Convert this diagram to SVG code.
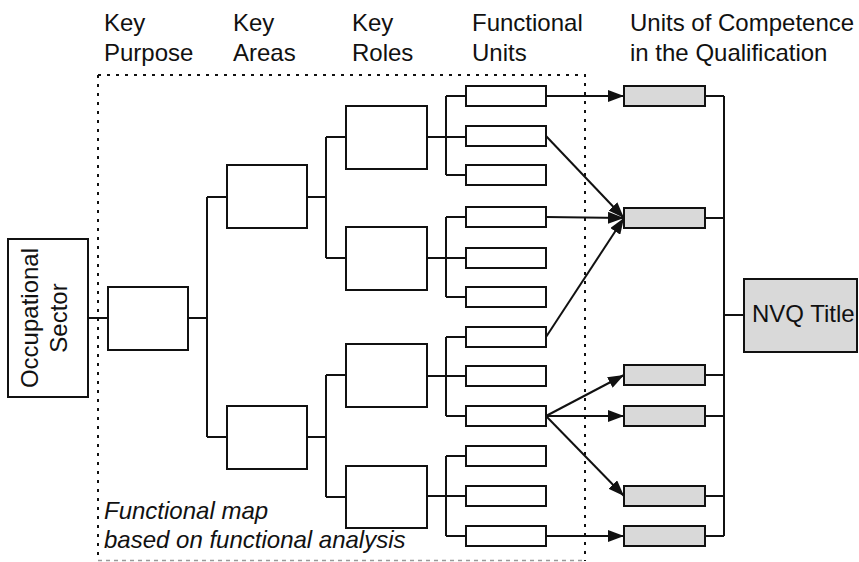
<svg xmlns="http://www.w3.org/2000/svg" width="859" height="562" viewBox="0 0 859 562">
<style>
text{font-family:"Liberation Sans",Arial,sans-serif;font-size:24px;fill:#111}
.it{font-style:italic}
.box{fill:#fff;stroke:#111;stroke-width:2}
.uc{fill:#d9d9d9;stroke:#111;stroke-width:2}
.ln{fill:none;stroke:#111;stroke-width:2}
.ar{fill:none;stroke:#111;stroke-width:2;marker-end:url(#ah)}
.dot{fill:none;stroke:#111;stroke-width:2;stroke-dasharray:3 6}
</style>
<defs>
<marker id="ah" markerUnits="userSpaceOnUse" markerWidth="16" markerHeight="12" refX="16" refY="6" orient="auto"><path d="M0,0 L16,6 L0,12 Z" fill="#111"/></marker>
</defs>
<rect width="859" height="562" fill="#fff"/>
<g id="headers">
<text x="104" y="31">Key</text><text x="104" y="61">Purpose</text>
<text x="233" y="31">Key</text><text x="233" y="61">Areas</text>
<text x="352" y="31">Key</text><text x="352" y="61">Roles</text>
<text x="472" y="31">Functional</text><text x="472" y="61">Units</text>
<text x="630" y="31">Units of Competence</text><text x="630" y="61">in the Qualification</text>
</g>
<g id="functional-map">
<path class="dot" d="M98,75 H585 V561 M98,75 V561"/>
<path d="M98,560.5 H585" fill="none" stroke="#999" stroke-width="1.5" stroke-dasharray="4 4"/>
<text class="it" x="104" y="519">Functional map</text>
<text class="it" x="104" y="548">based on functional analysis</text>
</g>
<g id="connectors">
<path class="ln" d="M88,318 H108 M188,318 H207 M207,197 V437 M207,197 H227 M207,437 H227"/>
<path class="ln" d="M307,197 H326 M326,137 V258 M326,137 H346 M326,258 H346"/>
<path class="ln" d="M307,437 H326 M326,375 V497 M326,375 H346 M326,497 H346"/>
<path class="ln" d="M427,137 H466 M446,96 V175 M446,96 H466 M446,175 H466"/>
<path class="ln" d="M427,258 H466 M446,217 V297 M446,217 H466 M446,297 H466"/>
<path class="ln" d="M427,376 H466 M446,337 V416 M446,337 H466 M446,416 H466"/>
<path class="ln" d="M427,496 H466 M446,456 V536 M446,456 H466 M446,536 H466"/>
<path class="ar" d="M546,96 L624,96"/>
<path class="ar" d="M546,136 L624,218"/>
<path class="ar" d="M546,217 L624,218"/>
<path class="ar" d="M546,337 L624,218"/>
<path class="ar" d="M546,416 L624,375"/>
<path class="ar" d="M546,416 L624,416"/>
<path class="ar" d="M546,416 L624,496"/>
<path class="ar" d="M546,536 L624,536"/>
<path class="ln" d="M705,96 H724 M705,218 H724 M705,375 H724 M705,416 H724 M705,496 H724 M705,536 H724 M724,96 V536 M724,315 H744"/>
</g>
<g id="occupational-sector">
<rect class="box" x="8" y="239" width="80" height="158"/>
<g transform="translate(0,318) rotate(-90)">
<text x="0" y="38" text-anchor="middle">Occupational</text>
<text x="0" y="67" text-anchor="middle">Sector</text>
</g>
</g>
<g id="key-purpose"><rect class="box" x="108" y="287" width="80" height="63"/></g>
<g id="key-area-1"><rect class="box" x="227" y="165" width="80" height="63"/></g>
<g id="key-area-2"><rect class="box" x="227" y="406" width="80" height="63"/></g>
<g id="key-role-1"><rect class="box" x="346" y="106" width="81" height="63"/></g>
<g id="key-role-2"><rect class="box" x="346" y="227" width="81" height="63"/></g>
<g id="key-role-3"><rect class="box" x="346" y="344" width="81" height="63"/></g>
<g id="key-role-4"><rect class="box" x="346" y="466" width="81" height="62"/></g>
<g id="fu-1"><rect class="box" x="466" y="86" width="80" height="20"/></g>
<g id="fu-2"><rect class="box" x="466" y="126" width="80" height="20"/></g>
<g id="fu-3"><rect class="box" x="466" y="165" width="80" height="20"/></g>
<g id="fu-4"><rect class="box" x="466" y="207" width="80" height="20"/></g>
<g id="fu-5"><rect class="box" x="466" y="248" width="80" height="20"/></g>
<g id="fu-6"><rect class="box" x="466" y="287" width="80" height="20"/></g>
<g id="fu-7"><rect class="box" x="466" y="327" width="80" height="20"/></g>
<g id="fu-8"><rect class="box" x="466" y="366" width="80" height="20"/></g>
<g id="fu-9"><rect class="box" x="466" y="406" width="80" height="20"/></g>
<g id="fu-10"><rect class="box" x="466" y="446" width="80" height="20"/></g>
<g id="fu-11"><rect class="box" x="466" y="486" width="80" height="20"/></g>
<g id="fu-12"><rect class="box" x="466" y="526" width="80" height="20"/></g>
<g id="uc-1"><rect class="uc" x="624" y="86" width="81" height="20"/></g>
<g id="uc-2"><rect class="uc" x="624" y="208" width="81" height="20"/></g>
<g id="uc-3"><rect class="uc" x="624" y="365" width="81" height="20"/></g>
<g id="uc-4"><rect class="uc" x="624" y="406" width="81" height="20"/></g>
<g id="uc-5"><rect class="uc" x="624" y="486" width="81" height="20"/></g>
<g id="uc-6"><rect class="uc" x="624" y="526" width="81" height="20"/></g>
<g id="nvq-title">
<rect class="uc" x="744" y="279" width="113" height="73"/>
<text x="752" y="322">NVQ Title</text>
</g>
</svg>
